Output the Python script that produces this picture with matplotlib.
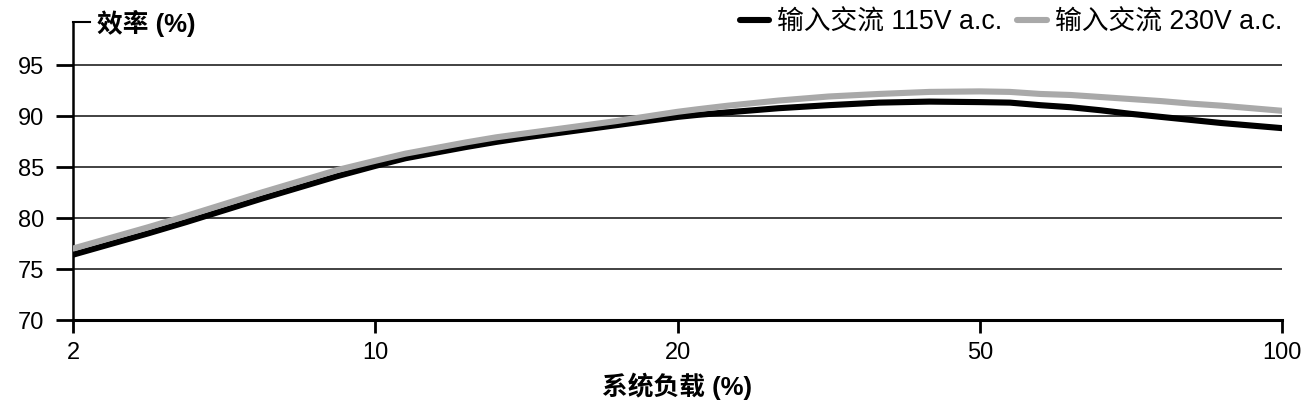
import numpy as np
import matplotlib
matplotlib.use('Agg')
import matplotlib.pyplot as plt

plt.rcParams['font.family'] = ['Liberation Sans', 'Noto Sans CJK SC', 'DejaVu Sans']

# values
load_ticks = [2, 10, 20, 50, 100]
load = [2, 3, 4, 5, 6, 7, 8, 9, 10, 11, 12, 13, 14, 15, 16, 17, 18, 19, 20,
        22, 25, 30, 35, 40, 45, 50, 55, 60, 65, 70, 75, 80, 85, 90, 95, 100]
eff_115 = [76.4, 77.45, 78.5, 79.6, 80.75, 81.9, 83.0, 84.1, 85.1, 85.85, 86.4, 86.95, 87.45,
           87.9, 88.3, 88.7, 89.1, 89.5, 89.9,
           90.1, 90.35, 90.75, 91.05, 91.3, 91.4, 91.35, 91.3, 91.05, 90.85, 90.55, 90.2, 89.9,
           89.6, 89.3, 89.05, 88.8]
eff_230 = [77.0, 78.05, 79.1, 80.2, 81.35, 82.5, 83.6, 84.7, 85.6, 86.3, 86.85, 87.4, 87.9,
           88.3, 88.7, 89.1, 89.5, 89.95, 90.4,
           90.65, 91.0, 91.5, 91.9, 92.15, 92.35, 92.4, 92.35, 92.15, 92.05, 91.85, 91.65, 91.45,
           91.2, 91.0, 90.75, 90.5]
y_ticks = [70, 75, 80, 85, 90, 95]

# x axis has evenly spaced ticks, linear in between
pos = np.arange(len(load_ticks))
def fwd(v):
    return np.interp(v, load_ticks, pos)
def inv(v):
    return np.interp(v, pos, load_ticks)

fig = plt.figure(figsize=(13.06, 4.06), dpi=100)
ax = fig.add_axes([73 / 1306, 85 / 406, 1209 / 1306, 298 / 406])
ax.set_xscale('function', functions=(fwd, inv))

ax.plot(load, eff_115, color='black', lw=4.4, solid_capstyle='round', solid_joinstyle='round',
        label='输入交流 115V a.c.', zorder=3)
ax.plot(load, eff_230, color='#a9a9a9', lw=4.4, solid_capstyle='round', solid_joinstyle='round',
        label='输入交流 230V a.c.', zorder=4)

ax.set_xlim(2, 100)
ax.set_ylim(70, 99.2)
ax.set_xticks(load_ticks)
ax.set_xticklabels([str(t) for t in load_ticks])
ax.set_yticks(y_ticks)
ax.xaxis.set_minor_locator(matplotlib.ticker.NullLocator())

for y in y_ticks[1:]:
    ax.axhline(y, color='#333333', lw=1.3, zorder=1)

for s in ['top', 'right']:
    ax.spines[s].set_visible(False)
ax.spines['left'].set_linewidth(1.8)
ax.spines['bottom'].set_linewidth(2.2)

ax.tick_params(axis='y', length=12.5, width=2, pad=8, labelsize=17)
ax.tick_params(axis='x', length=9, width=2, pad=6, labelsize=17)

# little stub at the top of the y axis leading to the label
ax.plot([0, 0.014], [1, 1], transform=ax.transAxes, color='black', lw=1.5, clip_on=False)
ax.text(0.02, 1.0, '效率 (%)', transform=ax.transAxes, va='center', ha='left',
        fontsize=18.5, fontweight='bold')

ax.set_xlabel('系统负载 (%)', fontsize=18.5, fontweight='bold', labelpad=6)

ax.legend(loc='center right', bbox_to_anchor=(1.0, 1.0), ncol=2, frameon=False,
          fontsize=19.3, handlelength=1.1, handletextpad=0.3, columnspacing=0.55,
          borderaxespad=0, borderpad=0)

fig.savefig('out.png', dpi=100)
